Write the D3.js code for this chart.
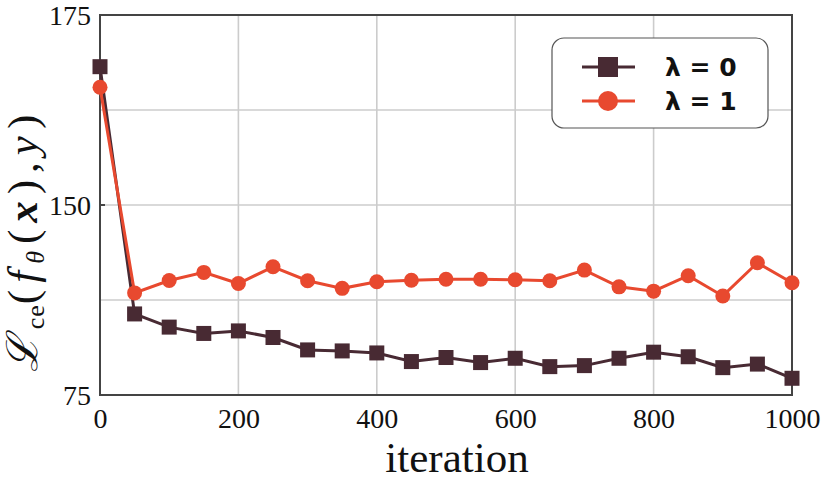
<!DOCTYPE html>
<html><head><meta charset="utf-8">
<script src="https://cdn.jsdelivr.net/npm/d3@7"></script>
<style>body{margin:0;background:#fff}</style>
</head><body>
<svg id="chart" width="831" height="480"></svg>
<script>
const iterations = [0,50,100,150,200,250,300,350,400,450,500,550,600,650,700,750,800,850,900,950,1000];
const lambda0 = [168.2,107.0,101.8,99.3,100.3,97.7,92.8,92.4,91.6,88.2,89.8,87.8,89.5,86.2,86.6,89.5,91.9,90.1,85.8,87.2,81.6];
const lambda1 = [165.5,115.3,120.2,123.4,119.0,125.6,120.1,117.1,119.7,120.3,120.7,120.7,120.5,120.1,124.3,117.7,116.0,122.1,114.1,127.2,119.3];
const xTicks = [0,200,400,600,800,1000];
const yTickLabels = [75,150,175];
const yGrid = [112.5,150,162.5];
const seriesNames = ["λ = 0","λ = 1"];
const colors = ["#482a33","#e8492f"];

const SERIF = '"Liberation Serif","Times New Roman",serif';
const svg = d3.select("#chart");
const x = d3.scaleLinear().domain([0,1000]).range([100,792]);
const y = d3.scaleLinear().domain([75,150,175]).range([395,205,15]);

// grid
svg.append("g").selectAll("line").data(xTicks.filter(d=>d>0&&d<1000)).join("line")
  .attr("x1",d=>x(d)).attr("x2",d=>x(d)).attr("y1",y(175)).attr("y2",y(75))
  .attr("stroke","#cccccc").attr("stroke-width",1.6);
svg.append("g").selectAll("line").data(yGrid).join("line")
  .attr("x1",x(0)).attr("x2",x(1000)).attr("y1",d=>y(d)).attr("y2",d=>y(d))
  .attr("stroke","#cccccc").attr("stroke-width",1.6);

// frame
svg.append("rect").attr("x",x(0)).attr("y",y(175)).attr("width",x(1000)-x(0)).attr("height",y(75)-y(175))
  .attr("fill","none").attr("stroke","#444").attr("stroke-width",2);

// axes
const xAxis = svg.append("g").attr("transform",`translate(0,${y(75)})`)
  .call(d3.axisBottom(x).tickValues(xTicks).tickSize(0).tickPadding(9).tickFormat(d3.format("d")));
xAxis.attr("font-family",null).attr("font-size",null);
xAxis.select(".domain").remove();
xAxis.selectAll("text").style("font-family",SERIF).style("font-size","28px").attr("fill","#111").attr("dy","0.86em");

const yAxis = svg.append("g").attr("transform",`translate(${x(0)},0)`)
  .call(d3.axisLeft(y).tickValues(yTickLabels).tickSize(0).tickPadding(9).tickFormat(d3.format("d")));
yAxis.attr("font-family",null).attr("font-size",null);
yAxis.select(".domain").remove();
yAxis.selectAll("text").style("font-family",SERIF).style("font-size","28px").attr("fill","#111").attr("dy","0.35em");
// inward tick at 150
svg.append("line").attr("x1",x(0)).attr("x2",x(0)+5).attr("y1",y(150)).attr("y2",y(150)).attr("stroke","#444").attr("stroke-width",2);

// series
const line = d3.line().x((d,i)=>x(iterations[i])).y(d=>y(d));
svg.append("path").datum(lambda0).attr("d",line).attr("fill","none").attr("stroke",colors[0]).attr("stroke-width",3);
svg.append("g").selectAll("rect").data(lambda0).join("rect")
  .attr("x",(d,i)=>x(iterations[i])-7.5).attr("y",d=>y(d)-7.5).attr("width",15).attr("height",15).attr("fill",colors[0]);
svg.append("path").datum(lambda1).attr("d",line).attr("fill","none").attr("stroke",colors[1]).attr("stroke-width",3);
svg.append("g").selectAll("circle").data(lambda1).join("circle")
  .attr("cx",(d,i)=>x(iterations[i])).attr("cy",d=>y(d)).attr("r",7.5).attr("fill",colors[1]);

// axis titles
svg.append("text").attr("x",457).attr("y",472).attr("text-anchor","middle")
  .style("font-family",SERIF).style("font-size","43px").attr("fill","#111").text("iteration");

const yl = svg.append("text").attr("transform","translate(37,240) rotate(-90)").attr("text-anchor","middle")
  .style("font-family",'"Liberation Serif","DejaVu Serif",serif').style("font-size","43px").attr("fill","#111")
  .style("letter-spacing","7px");
yl.append("tspan").attr("font-style","italic").text("ℒ");
yl.append("tspan").style("font-size","26px").style("letter-spacing","1px").attr("dy",7).text("ce");
yl.append("tspan").attr("dy",-7).text("(");
yl.append("tspan").attr("font-style","italic").text("f");
yl.append("tspan").attr("font-style","italic").style("font-size","26px").attr("dy",7).text("θ");
yl.append("tspan").attr("dy",-7).text("(");
yl.append("tspan").attr("font-style","italic").attr("font-weight","bold").text("x");
yl.append("tspan").text("),");
yl.append("tspan").attr("font-style","italic").text("y");
yl.append("tspan").text(")");

// legend
const lg = svg.append("g");
lg.append("rect").attr("x",552).attr("y",38).attr("width",216).attr("height",90).attr("rx",12)
  .attr("fill","#fff").attr("stroke","#555").attr("stroke-width",1.2);
[0,1].forEach(i=>{
  const ly = 67 + i*34;
  lg.append("line").attr("x1",582).attr("x2",635).attr("y1",ly).attr("y2",ly).attr("stroke",colors[i]).attr("stroke-width",3);
  if(i===0) lg.append("rect").attr("x",598).attr("y",ly-10).attr("width",20).attr("height",20).attr("fill",colors[i]);
  else lg.append("circle").attr("cx",608).attr("cy",ly).attr("r",10).attr("fill",colors[i]);
  lg.append("text").attr("x",665).attr("y",ly).attr("dy","0.36em").style("font-family","DejaVu Sans, sans-serif")
    .style("font-weight","bold").style("font-size","25px").attr("fill","#111").text(seriesNames[i]);
});
</script>
</body></html>
